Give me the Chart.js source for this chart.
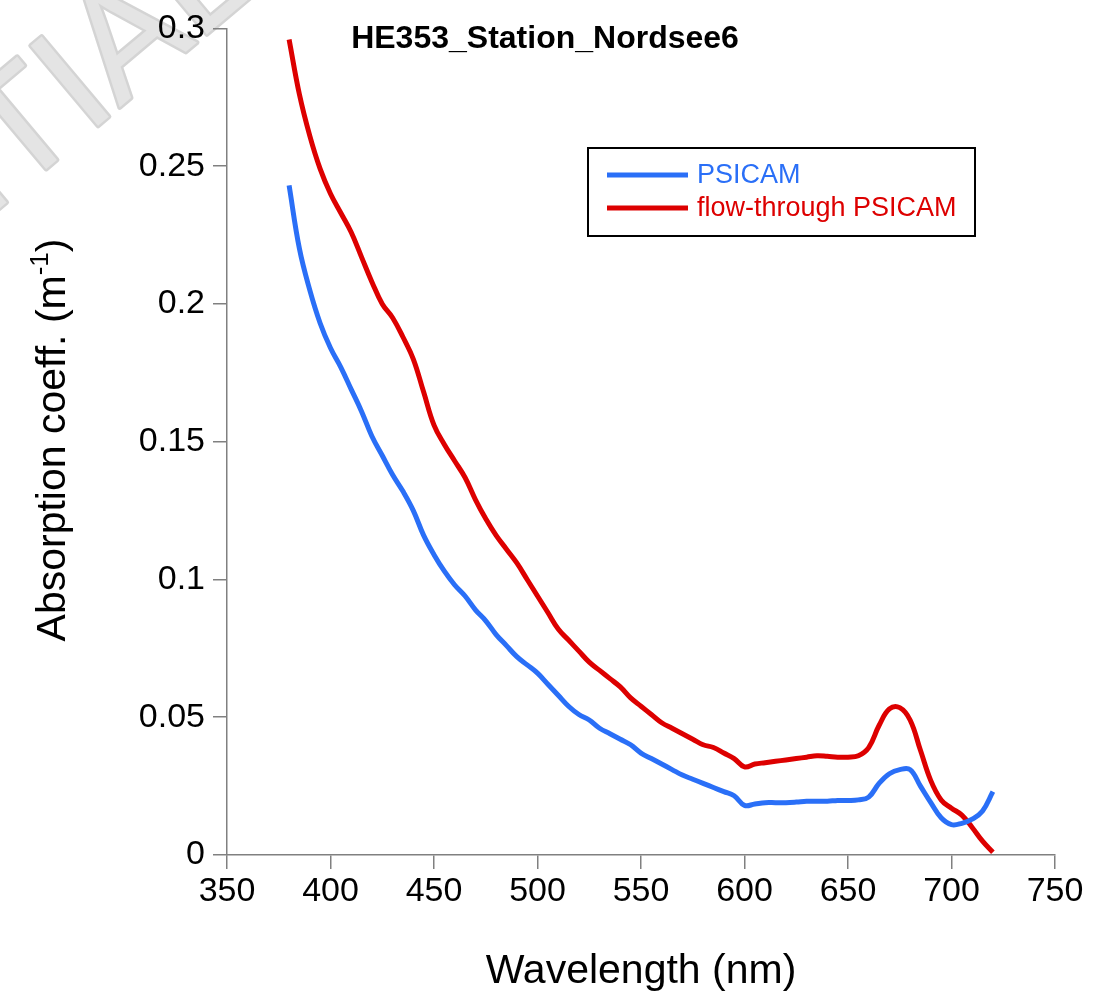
<!DOCTYPE html>
<html>
<head>
<meta charset="utf-8">
<title>HE353_Station_Nordsee6</title>
<script src="https://cdn.jsdelivr.net/npm/chart.js@4.4.1/dist/chart.umd.min.js"></script>
<style>
  html, body { margin: 0; padding: 0; background: #fff; }
  #wrap { width: 1098px; height: 999px; position: relative; }
</style>
</head>
<body>
<div id="wrap"><canvas id="absChart"></canvas></div>
<script>
// wavelengths (nm), 5 nm steps
const wavelengths = [
  380, 385, 390, 395, 400, 405, 410, 415, 420, 425, 430, 435, 440, 445, 450, 455, 460, 465, 470, 475,
  480, 485, 490, 495, 500, 505, 510, 515, 520, 525, 530, 535, 540, 545, 550, 555, 560, 565, 570, 575,
  580, 585, 590, 595, 600, 605, 610, 615, 620, 625, 630, 635, 640, 645, 650, 655, 660, 665, 670, 675,
  680, 685, 690, 695, 700, 705, 710, 715, 720
];

// absorption coeff. (m-1)
const psicam = [
  0.243, 0.220, 0.205, 0.193, 0.184, 0.177, 0.169, 0.161, 0.152, 0.145, 0.138, 0.132, 0.125, 0.116, 0.109, 0.103, 0.098, 0.094, 0.089, 0.085,
  0.080, 0.076, 0.072, 0.069, 0.066, 0.062, 0.058, 0.054, 0.051, 0.049, 0.046, 0.044, 0.042, 0.040, 0.037, 0.035, 0.033, 0.031, 0.029, 0.0275,
  0.026, 0.0245, 0.023, 0.0215, 0.018, 0.0185, 0.019, 0.019, 0.019, 0.0192, 0.0195, 0.0195, 0.0195, 0.0198, 0.0198, 0.020, 0.021, 0.026, 0.0295, 0.031,
  0.031, 0.025, 0.019, 0.0135, 0.011, 0.0115, 0.013, 0.016, 0.023
];

const flowThrough = [
  0.296, 0.276, 0.261, 0.249, 0.240, 0.233, 0.226, 0.217, 0.208, 0.200, 0.195, 0.188, 0.180, 0.168, 0.156, 0.149, 0.143, 0.137, 0.129, 0.122,
  0.116, 0.111, 0.106, 0.100, 0.094, 0.088, 0.082, 0.078, 0.074, 0.070, 0.067, 0.064, 0.061, 0.057, 0.054, 0.051, 0.048, 0.046, 0.044, 0.042,
  0.040, 0.039, 0.037, 0.035, 0.032, 0.033, 0.0335, 0.034, 0.0345, 0.035, 0.0355, 0.036, 0.0358, 0.0355, 0.0355, 0.036, 0.039, 0.047, 0.053, 0.0535,
  0.049, 0.038, 0.027, 0.020, 0.017, 0.0145, 0.010, 0.005, 0.001
];

const xTicks = [350, 400, 450, 500, 550, 600, 650, 700, 750];
const yTicks = [0, 0.05, 0.1, 0.15, 0.2, 0.25, 0.3];

const seriesNames = ['PSICAM', 'flow-through PSICAM'];
const seriesColors = ['#2a6ff7', '#dd0000'];

const FONT = 'Arial, "Liberation Sans", sans-serif';
const AXIS_GREY = '#808080';

function toPoints(ys) {
  return wavelengths.map((w, i) => ({ x: w, y: ys[i] }));
}

// faint watermark behind the plot
const watermark = {
  id: 'watermark',
  beforeDraw(chart) {
    const ctx = chart.ctx;
    ctx.save();
    ctx.translate(262, -12);
    ctx.rotate(-40 * Math.PI / 180);
    ctx.font = '152px ' + FONT;
    ctx.textAlign = 'right';
    ctx.textBaseline = 'alphabetic';
    ctx.lineJoin = 'round';
    ctx.strokeStyle = '#d4d4d4';
    ctx.lineWidth = 5;
    ctx.strokeText('CONFIDENTIAL', 0, 0);
    ctx.fillStyle = '#e4e4e4';
    ctx.fillText('CONFIDENTIAL', 0, 0);
    ctx.restore();
  }
};

// title, axis titles and boxed legend
const decorations = {
  id: 'decorations',
  afterDraw(chart) {
    const ctx = chart.ctx;
    const area = chart.chartArea;
    ctx.save();

    // title inside plot
    ctx.fillStyle = '#000';
    ctx.font = 'bold 32px ' + FONT;
    ctx.textAlign = 'center';
    ctx.textBaseline = 'alphabetic';
    ctx.fillText('HE353_Station_Nordsee6', 545, 48);

    // x axis title
    ctx.font = '41px ' + FONT;
    ctx.textBaseline = 'middle';
    ctx.fillText('Wavelength (nm)', (area.left + area.right) / 2, 972);

    // y axis title with superscript
    ctx.save();
    ctx.translate(50, 440);
    ctx.rotate(-Math.PI / 2);
    const main = 'Absorption coeff. (m';
    const sup = '-1';
    const tail = ')';
    ctx.font = '41px ' + FONT;
    const wMain = ctx.measureText(main).width;
    const wTail = ctx.measureText(tail).width;
    ctx.font = '26px ' + FONT;
    const wSup = ctx.measureText(sup).width;
    const x0 = -(wMain + wSup + wTail) / 2;
    ctx.textAlign = 'left';
    ctx.textBaseline = 'alphabetic';
    ctx.font = '41px ' + FONT;
    ctx.fillText(main, x0, 15);
    ctx.font = '26px ' + FONT;
    ctx.fillText(sup, x0 + wMain, -2);
    ctx.font = '41px ' + FONT;
    ctx.fillText(tail, x0 + wMain + wSup, 15);
    ctx.restore();

    // legend box
    ctx.lineWidth = 2;
    ctx.strokeStyle = '#000';
    ctx.strokeRect(588, 148, 387, 88);
    ctx.font = '27px ' + FONT;
    ctx.textAlign = 'left';
    ctx.textBaseline = 'middle';
    chart.data.datasets.forEach((ds, i) => {
      const y = 175 + i * 33;
      ctx.strokeStyle = ds.borderColor;
      ctx.lineWidth = 5;
      ctx.beginPath();
      ctx.moveTo(607, y);
      ctx.lineTo(688, y);
      ctx.stroke();
      ctx.fillStyle = ds.borderColor;
      ctx.fillText(ds.label, 697, y + 1);
    });

    ctx.restore();
  }
};

const ctx = document.getElementById('absChart').getContext('2d');
new Chart(ctx, {
  type: 'line',
  data: {
    datasets: [
      {
        label: seriesNames[0],
        data: toPoints(psicam),
        borderColor: seriesColors[0],
        borderWidth: 5,
        pointRadius: 0,
        tension: 0.4,
        fill: false
      },
      {
        label: seriesNames[1],
        data: toPoints(flowThrough),
        borderColor: seriesColors[1],
        borderWidth: 5,
        pointRadius: 0,
        tension: 0.4,
        fill: false
      }
    ]
  },
  options: {
    responsive: true,
    maintainAspectRatio: false,
    animation: false,
    layout: { padding: { left: 0, right: 43, top: 25, bottom: 0 } },
    scales: {
      x: {
        type: 'linear',
        min: xTicks[0],
        max: xTicks[xTicks.length - 1],
        afterFit: (scale) => { scale.height = 144; },
        afterBuildTicks: (scale) => { scale.ticks = xTicks.map(v => ({ value: v })); },
        border: { display: true, color: AXIS_GREY, width: 1.5 },
        grid: { display: true, drawOnChartArea: false, drawTicks: true, tickLength: 14, color: AXIS_GREY, lineWidth: 1.5 },
        ticks: { color: '#000', font: { family: FONT, size: 34 }, padding: 2, maxRotation: 0 }
      },
      y: {
        min: yTicks[0],
        max: yTicks[yTicks.length - 1],
        afterFit: (scale) => { scale.width = 227; },
        afterBuildTicks: (scale) => { scale.ticks = yTicks.map(v => ({ value: v })); },
        border: { display: true, color: AXIS_GREY, width: 1.5 },
        grid: { display: true, drawOnChartArea: false, drawTicks: true, tickLength: 14, color: AXIS_GREY, lineWidth: 1.5 },
        ticks: {
          color: '#000',
          font: { family: FONT, size: 34 },
          padding: 8,
          callback: (v) => String(+v.toFixed(2))
        }
      }
    },
    plugins: {
      legend: { display: false },
      title: { display: false },
      tooltip: { enabled: false }
    }
  },
  plugins: [watermark, decorations]
});
</script>
</body>
</html>
